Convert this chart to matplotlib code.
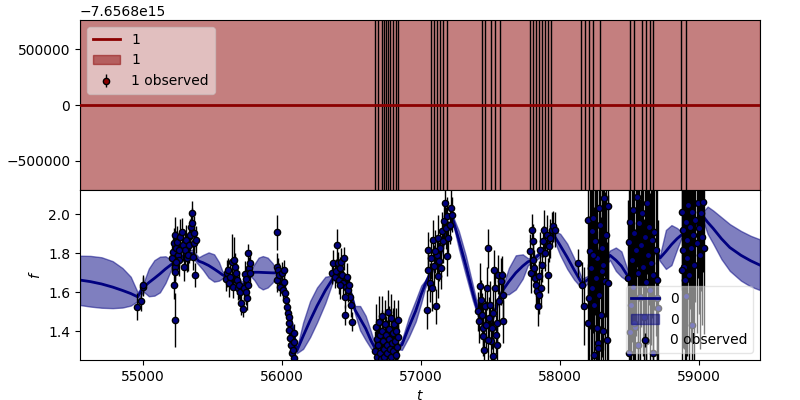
import numpy as np
import matplotlib
matplotlib.use("Agg")
import matplotlib.pyplot as plt

# --- GP prediction for output 0 ---
t_pred = [54545, 54620, 54700, 54780, 54850, 54910, 54960, 55000, 55040, 55080,
          55120, 55160, 55206, 55250, 55300, 55350, 55400, 55430, 55470, 55510,
          55545, 55570, 55620, 55680, 55720, 55770, 55800, 55830, 55860, 55895,
          55930, 55960, 55990, 56020, 56050, 56080, 56105, 56150, 56200, 56250,
          56310, 56365, 56400, 56450, 56500, 56523, 56560, 56600, 56640, 56667,
          56700, 56760, 56833, 56861, 56910, 56960, 57000, 57027, 57080, 57140,
          57190, 57228, 57270, 57320, 57370, 57408, 57450, 57500, 57560, 57588,
          57630, 57680, 57730, 57768, 57800, 57860, 57948, 58000, 58050, 58100,
          58156, 58228, 58300, 58358, 58400, 58440, 58480, 58516, 58600, 58682,
          58718, 58760, 58800, 58840, 58873, 58950, 59005, 59026, 59060, 59100,
          59160, 59220, 59300, 59370, 59436]
mu0 = [1.663, 1.655, 1.643, 1.627, 1.610, 1.594, 1.577, 1.625, 1.650, 1.672,
       1.695, 1.720, 1.745, 1.770, 1.790, 1.800, 1.760, 1.752, 1.738, 1.720,
       1.703, 1.690, 1.672, 1.645, 1.635, 1.700, 1.703, 1.703, 1.702, 1.701,
       1.700, 1.700, 1.680, 1.615, 1.500, 1.400, 1.300, 1.375, 1.455, 1.530,
       1.610, 1.672, 1.700, 1.660, 1.580, 1.510, 1.465, 1.415, 1.350, 1.314,
       1.295, 1.330, 1.320, 1.331, 1.420, 1.505, 1.590, 1.640, 1.720, 1.800,
       1.930, 1.972, 1.870, 1.740, 1.600, 1.500, 1.430, 1.440, 1.570, 1.612,
       1.655, 1.700, 1.735, 1.757, 1.765, 1.800, 1.900, 1.840, 1.780, 1.715,
       1.645, 1.680, 1.740, 1.790, 1.765, 1.735, 1.690, 1.670, 1.750, 1.815,
       1.776, 1.810, 1.845, 1.875, 1.895, 1.930, 1.966, 1.991, 1.960, 1.928,
       1.875, 1.830, 1.790, 1.762, 1.740]
lo0 = [1.535, 1.527, 1.521, 1.519, 1.522, 1.532, 1.555, 1.605, 1.580, 1.583,
       1.600, 1.648, 1.725, 1.750, 1.770, 1.780, 1.740, 1.715, 1.675, 1.655,
       1.660, 1.672, 1.652, 1.625, 1.615, 1.685, 1.662, 1.628, 1.615, 1.625,
       1.650, 1.685, 1.665, 1.600, 1.485, 1.385, 1.288, 1.310, 1.370, 1.445,
       1.545, 1.657, 1.685, 1.645, 1.565, 1.490, 1.405, 1.355, 1.310, 1.300,
       1.282, 1.318, 1.308, 1.305, 1.370, 1.450, 1.545, 1.620, 1.705, 1.785,
       1.915, 1.955, 1.825, 1.690, 1.560, 1.475, 1.415, 1.425, 1.555, 1.592,
       1.590, 1.615, 1.670, 1.740, 1.750, 1.785, 1.880, 1.790, 1.720, 1.665,
       1.620, 1.665, 1.725, 1.765, 1.710, 1.680, 1.660, 1.655, 1.735, 1.800,
       1.760, 1.720, 1.740, 1.820, 1.880, 1.915, 1.950, 1.970, 1.900, 1.850,
       1.770, 1.710, 1.660, 1.630, 1.612]
hi0 = [1.788, 1.787, 1.780, 1.760, 1.725, 1.680, 1.600, 1.645, 1.722, 1.765,
       1.783, 1.785, 1.765, 1.790, 1.810, 1.820, 1.780, 1.792, 1.805, 1.795,
       1.755, 1.708, 1.692, 1.665, 1.655, 1.715, 1.745, 1.778, 1.786, 1.778,
       1.750, 1.715, 1.695, 1.630, 1.515, 1.415, 1.312, 1.445, 1.555, 1.625,
       1.680, 1.687, 1.715, 1.675, 1.595, 1.530, 1.530, 1.480, 1.395, 1.330,
       1.308, 1.342, 1.332, 1.357, 1.470, 1.560, 1.635, 1.660, 1.735, 1.815,
       1.945, 1.990, 1.915, 1.790, 1.640, 1.525, 1.445, 1.455, 1.585, 1.632,
       1.725, 1.790, 1.795, 1.775, 1.780, 1.815, 1.920, 1.900, 1.850, 1.775,
       1.670, 1.695, 1.755, 1.815, 1.830, 1.810, 1.725, 1.685, 1.765, 1.830,
       1.792, 1.920, 1.945, 1.930, 1.910, 1.945, 1.982, 2.012, 2.040, 2.020,
       1.985, 1.950, 1.915, 1.890, 1.872]

# --- observations for output 0 ---
t_obs0 = [
    54953, 54981, 54996, 55000,
    55208, 55213, 55218, 55225, 55220, 55225, 55230, 55228, 55235, 55242, 55249,
    55259, 55266, 55278, 55283, 55290, 55297, 55307, 55314, 55321, 55326, 55335,
    55343, 55348, 55350, 55355, 55362, 55367, 55374, 55379, 55259, 55235,
    55598, 55602, 55610, 55617, 55626, 55638, 55646, 55650, 55658, 55665, 55674,
    55679, 55686, 55698, 55703, 55715, 55722, 55730, 55737, 55741, 55746, 55751,
    55758, 55765, 55770, 55753,
    55961, 55961, 55963, 55973, 55980, 55987, 55997, 56004, 56011, 56016, 56021,
    56028, 56035, 56040, 56047, 56052, 56057, 56062, 56069, 56076, 56081, 56083,
    56088, 56045,
    56358, 56365, 56377, 56384, 56394, 56401, 56406, 56413, 56425, 56432, 56437,
    56444, 56451, 56461, 56468, 56475, 56485, 56492, 56501, 56413, 56449, 56478,
    56670, 56675, 56680, 56685, 56690, 56695, 56700, 56705, 56710, 56715, 56720,
    56725, 56730, 56735, 56740, 56745, 56750, 56755, 56760, 56765, 56770, 56775,
    56780, 56785, 56790, 56795, 56800, 56805, 56810, 56815, 56820, 56825, 56830,
    56835,
    57039, 57046, 57051, 57063, 57070, 57075, 57086, 57093, 57103, 57111, 57118,
    57122, 57130, 57137, 57144, 57151, 57158, 57165, 57170, 57178, 57185, 57194,
    57206, 57214, 57223, 57183, 57098,
    57410, 57417, 57422, 57427, 57434, 57441, 57446, 57451, 57458, 57465, 57475,
    57482, 57489, 57494, 57501, 57508, 57516, 57523, 57530, 57537, 57542, 57547,
    57554, 57561, 57571, 57578, 57585, 57590, 57518, 57482,
    57782, 57787, 57794, 57801, 57806, 57811, 57818, 57825, 57830, 57837, 57845,
    57854, 57861, 57868, 57878, 57885, 57892, 57902, 57909, 57917, 57926, 57938,
    57950, 57962, 57849,
    58129, 58154, 58173, 58201, 58201, 58214, 58221, 58226, 58230, 58237, 58242,
    58250, 58255, 58262, 58266, 58273, 58278, 58285, 58290, 58298, 58302, 58309,
    58316, 58322, 58329, 58334, 58341, 58345, 58269, 58244, 58208, 58233, 58281,
    58305,
    58485, 58494, 58501, 58506, 58513, 58521, 58525, 58532, 58539, 58544, 58551,
    58559, 58566, 58573, 58580, 58587, 58595, 58602, 58609, 58616, 58623, 58631,
    58638, 58645, 58652, 58659, 58669, 58676, 58686, 58693, 58501, 58559, 58494,
    58669, 58530, 58697, 58705, 58620,
    58873, 58880, 58885, 58890, 58897, 58902, 58910, 58914, 58921, 58928, 58933,
    58940, 58947, 58957, 58964, 58971, 58981, 58988, 58996, 59005, 59012, 59019,
    59026, 59034, 58873, 58908, 58950,
]
f_obs0 = [
    1.526, 1.555, 1.629, 1.640,
    1.774, 1.808, 1.851, 1.894, 1.637, 1.458, 1.731, 1.705, 1.825, 1.860, 1.791,
    1.766, 1.885, 1.910, 1.843, 1.728, 1.817, 1.868, 1.774, 1.791, 1.843, 1.894,
    1.937, 2.009, 1.954, 1.783, 1.902, 1.851, 1.689, 1.871, 1.817, 1.757,
    1.669, 1.698, 1.715, 1.646, 1.680, 1.757, 1.629, 1.766, 1.732, 1.698, 1.663,
    1.620, 1.637, 1.603, 1.543, 1.514, 1.620, 1.692, 1.669, 1.603, 1.569, 1.800,
    1.723, 1.749, 1.698, 1.637,
    1.908, 1.731, 1.663, 1.714, 1.689, 1.629, 1.697, 1.612, 1.654, 1.714, 1.595,
    1.560, 1.526, 1.496, 1.441, 1.407, 1.364, 1.330, 1.287, 1.304, 1.261, 1.390,
    1.347, 1.475,
    1.701, 1.749, 1.680, 1.709, 1.843, 1.749, 1.663, 1.723, 1.757, 1.689, 1.646,
    1.774, 1.484, 1.629, 1.680, 1.612, 1.578, 1.535, 1.450, 1.637, 1.578, 1.637,
    1.300, 1.420, 1.360, 1.270, 1.330, 1.450, 1.380, 1.290, 1.260, 1.400, 1.480,
    1.350, 1.310, 1.270, 1.440, 1.380, 1.330, 1.290, 1.500, 1.360, 1.410, 1.310,
    1.270, 1.470, 1.340, 1.390, 1.300, 1.440, 1.350, 1.280, 1.400, 1.320, 1.460,
    1.370,
    1.511, 1.716, 1.818, 1.648, 1.776, 1.622, 1.870, 1.733, 1.528, 1.793, 1.682,
    1.878, 1.759, 1.827, 1.725, 1.913, 1.862, 1.964, 2.058, 1.930, 1.990, 1.878,
    1.947, 2.032, 1.998, 1.785, 1.810,
    1.503, 1.451, 1.631, 1.562, 1.485, 1.417, 1.374, 1.306, 1.528, 1.434, 1.622,
    1.827, 1.468, 1.536, 1.349, 1.417, 1.494, 1.716, 1.622, 1.383, 1.331, 1.443,
    1.690, 1.554, 1.656, 1.687, 1.451, 1.588, 1.272, 1.357,
    1.810, 1.699, 1.921, 1.862, 1.767, 1.725, 1.673, 1.639, 1.605, 1.528, 1.682,
    1.818, 1.622, 1.742, 1.862, 1.921, 1.801, 1.895, 1.687, 1.836, 1.878, 1.921,
    1.938, 1.921, 1.588,
    1.750, 1.636, 1.528, 1.443, 1.969, 1.810, 1.725, 1.913, 1.622, 1.981, 1.536,
    1.862, 1.673, 1.417, 1.776, 1.340, 1.588, 1.947, 1.485, 1.708, 1.827, 1.400,
    2.084, 1.656, 1.895, 1.357, 2.041, 1.648, 1.314, 1.280, 1.571, 1.793, 2.032,
    1.742,
    1.672, 1.860, 1.962, 1.535, 1.766, 2.022, 1.629, 1.903, 1.424, 1.817, 2.090,
    1.697, 1.954, 1.577, 1.843, 2.005, 1.731, 1.475, 1.885, 1.654, 2.056, 1.791,
    1.937, 1.612, 1.749, 1.868, 1.689, 1.911, 1.817, 1.663, 1.398, 1.330, 1.289,
    1.289, 1.442, 1.571, 1.519, 1.350,
    2.013, 1.920, 1.817, 1.731, 1.663, 1.962, 1.868, 1.774, 2.048, 1.689, 1.937,
    1.826, 2.013, 1.894, 1.740, 1.971, 1.851, 2.056, 1.928, 1.791, 2.005, 1.885,
    2.065, 1.826, 1.714, 1.581, 1.434,
]
ferr0 = [
    0.07, 0.05, 0.05, 0.05,
    0.07, 0.08, 0.08, 0.09, 0.07, 0.14, 0.07, 0.08, 0.09, 0.08, 0.07,
    0.08, 0.09, 0.07, 0.08, 0.07, 0.09, 0.08, 0.07, 0.08, 0.09, 0.08,
    0.07, 0.06, 0.08, 0.07, 0.09, 0.08, 0.06, 0.07, 0.08, 0.07,
    0.06, 0.07, 0.06, 0.07, 0.06, 0.14, 0.06, 0.12, 0.07, 0.06, 0.07,
    0.06, 0.07, 0.06, 0.06, 0.04, 0.06, 0.07, 0.06, 0.07, 0.06, 0.05,
    0.06, 0.07, 0.06, 0.06,
    0.09, 0.07, 0.06, 0.06, 0.06, 0.05, 0.06, 0.05, 0.06, 0.05, 0.05,
    0.05, 0.05, 0.05, 0.05, 0.05, 0.05, 0.05, 0.05, 0.05, 0.05, 0.05,
    0.05, 0.05,
    0.06, 0.07, 0.06, 0.06, 0.08, 0.06, 0.07, 0.06, 0.07, 0.06, 0.07,
    0.06, 0.05, 0.06, 0.07, 0.06, 0.06, 0.06, 0.05, 0.07, 0.06, 0.05,
    0.10, 0.12, 0.10, 0.09, 0.11, 0.13, 0.10, 0.12, 0.09, 0.11, 0.10,
    0.12, 0.10, 0.11, 0.12, 0.10, 0.13, 0.09, 0.11, 0.10, 0.12, 0.11,
    0.10, 0.12, 0.11, 0.13, 0.10, 0.12, 0.11, 0.10, 0.12, 0.11, 0.10,
    0.11,
    0.10, 0.11, 0.09, 0.10, 0.11, 0.12, 0.10, 0.11, 0.09, 0.10, 0.11,
    0.12, 0.10, 0.09, 0.11, 0.10, 0.11, 0.09, 0.10, 0.11, 0.10, 0.09,
    0.10, 0.11, 0.09, 0.10, 0.11,
    0.10, 0.11, 0.12, 0.10, 0.11, 0.12, 0.10, 0.11, 0.10, 0.12, 0.11,
    0.10, 0.11, 0.12, 0.10, 0.11, 0.12, 0.10, 0.11, 0.10, 0.12, 0.11,
    0.10, 0.11, 0.12, 0.10, 0.11, 0.12, 0.10, 0.11,
    0.09, 0.10, 0.08, 0.09, 0.10, 0.09, 0.08, 0.10, 0.09, 0.10, 0.08,
    0.09, 0.10, 0.09, 0.08, 0.10, 0.09, 0.10, 0.09, 0.08, 0.10, 0.09,
    0.08, 0.09, 0.10,
    0.07, 0.12, 0.20, 0.30, 0.45, 0.40, 0.50, 0.35, 0.45, 0.40, 0.50,
    0.38, 0.45, 0.50, 0.40, 0.48, 0.42, 0.36, 0.50, 0.44, 0.38, 0.50,
    0.40, 0.46, 0.42, 0.50, 0.38, 0.45, 0.48, 0.50, 0.42, 0.40, 0.36,
    0.44,
    0.40, 0.45, 0.38, 0.50, 0.42, 0.36, 0.48, 0.40, 0.50, 0.44, 0.36,
    0.46, 0.40, 0.50, 0.42, 0.38, 0.46, 0.50, 0.40, 0.48, 0.36, 0.44,
    0.40, 0.50, 0.42, 0.40, 0.46, 0.40, 0.44, 0.48, 0.45, 0.50, 0.45,
    0.45, 0.40, 0.40, 0.45, 0.45,
    0.40, 0.45, 0.50, 0.42, 0.48, 0.40, 0.44, 0.50, 0.38, 0.46, 0.42,
    0.48, 0.40, 0.45, 0.50, 0.42, 0.46, 0.38, 0.44, 0.48, 0.40, 0.45,
    0.36, 0.44, 0.48, 0.45, 0.45,
]

# --- output 1: constant prediction far below 0, huge band ---
mu1_level = -7.6568e15
sd1 = 3.0e15
t_obs1 = [56667, 56689, 56718, 56732, 56747, 56761, 56775, 56797, 56819, 56833,
          57070, 57091, 57113, 57135, 57156, 57185,
          57437, 57458, 57502, 57530, 57566,
          57782, 57804, 57825, 57847, 57869, 57890, 57912, 57933,
          58149, 58178, 58207, 58235, 58286,
          58501, 58530, 58587, 58616, 58645, 58667,
          58868, 58904]
f_obs1 = [0.0] * len(t_obs1)
ferr1 = [1.0e16] * len(t_obs1)

fig, (ax1, ax0) = plt.subplots(2, 1, sharex=True, figsize=(8, 4), dpi=100)
fig.subplots_adjust(left=0.1, right=0.95, top=0.95, bottom=0.1, hspace=0)

# top panel (output 1)
tp = np.array(t_pred)
mu1 = np.full(len(tp), mu1_level)
ax1.plot(tp, mu1, color='darkred', lw=2, label='1', zorder=3)
ax1.fill_between(tp, mu1 - sd1, mu1 + sd1, color='darkred', alpha=0.5, label='1')
ax1.errorbar(t_obs1, f_obs1, yerr=ferr1, fmt='o', color='darkred', ecolor='k',
             elinewidth=1, mec='k', ms=4.5, label='1 observed')
ax1.set_ylim(mu1_level - 760000, mu1_level + 760000)
ax1.yaxis.get_major_formatter().set_powerlimits((-5, 7))
ax1.legend(loc='upper left', framealpha=0.5)

# bottom panel (output 0)
ax0.plot(t_pred, mu0, color='navy', lw=2, label='0')
ax0.fill_between(t_pred, lo0, hi0, color='navy', alpha=0.5, label='0')
ax0.errorbar(t_obs0, f_obs0, yerr=ferr0, fmt='o', color='navy', ecolor='k',
             elinewidth=1, mec='k', ms=4.5, label='0 observed')
ax0.set_xlim(54545, 59437)
ax0.set_ylim(1.253, 2.125)
ax0.set_xlabel('$t$')
ax0.set_ylabel('$f$')
ax0.legend(loc='lower right', framealpha=0.5)

plt.savefig('out.png', dpi=100)
